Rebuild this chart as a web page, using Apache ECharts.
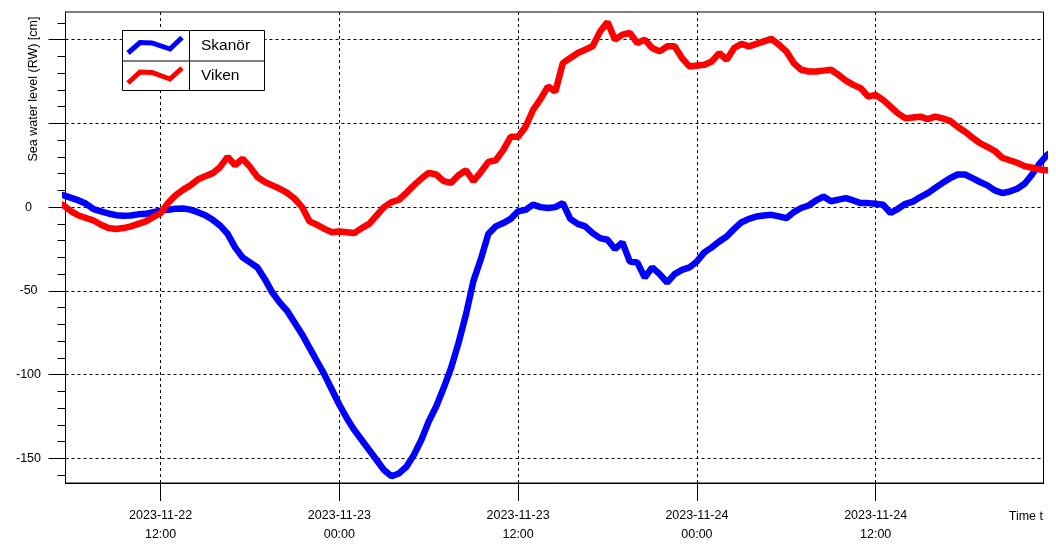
<!DOCTYPE html>
<html>
<head>
<meta charset="utf-8">
<script src="https://cdn.jsdelivr.net/npm/echarts@6/dist/echarts.min.js"></script>
<style>
html, body { margin: 0; padding: 0; background: #fff; }
#chart { width: 1056px; height: 559px; }
</style>
</head>
<body>
<div id="chart"></div>
<script>
// readings every 30 minutes, first one at 2023-11-22 05:00 (local time)
const firstReading = new Date(2023, 10, 22, 5, 0).getTime();
const stepMinutes = 30;

// Sea water level (RW) [cm]
const skanor = [
    8, 7, 5.5, 4, 2, -1.2, -2.5, -3.8, -4.8, -5.2,
    -5, -4.3, -4, -3, -2.2, -1.5, -1, -0.8, -1.5, -3,
    -4.8, -7.6, -11, -16, -24, -30, -33, -36, -43, -51,
    -57, -62, -69, -76, -84, -92, -100, -109, -118, -126,
    -133, -139, -145, -151, -157, -160.7, -159, -155, -148, -139,
    -128, -119, -108, -96, -81, -64, -44, -31, -16, -11.5,
    -9.5, -7, -2.5, -1.6, 1.5, 0, -0.5, 0, 2.4, -7,
    -10, -11.5, -15.5, -18.5, -19.5, -25, -21, -32.5, -33, -42,
    -36, -40, -45, -40, -37.5, -36, -32.5, -27, -24, -20.5,
    -17.5, -13, -9, -7, -5.6, -5, -4.6, -5.5, -6.6, -3,
    -0.5, 1, 4, 6.3, 3.5, 4.5, 5.4, 4, 2.4, 2.4,
    2, 1.4, -3.5, -1, 2, 3.3, 6, 8.4, 11.5, 14.5,
    17.3, 19.5, 19.5, 17.3, 15, 13, 10, 8.4, 9.3, 11,
    14, 19.5, 26, 31, 34
];
const viken = [
    3, 1, -2.5, -5, -6.5, -8, -10.5, -12.5, -13, -12.5,
    -11.5, -10, -8.5, -6, -3.6, 2.5, 7, 10.3, 13, 16.5,
    18.5, 20.3, 24, 30, 25, 29, 24, 18, 15, 13,
    11, 8.5, 5, 0, -8.5, -10.5, -13, -15, -14.5, -15,
    -15.5, -12.5, -10, -5, 0, 3, 4.4, 8.5, 13, 17,
    20.5, 19.5, 15.5, 14.5, 19, 22, 15.5, 21, 27, 28,
    34, 42, 42, 48, 58, 64.5, 72, 69, 86, 89,
    92, 94, 96, 104.8, 110.5, 100, 103, 104, 98, 100,
    95, 93, 96, 96, 89, 84, 84.5, 85, 87, 92,
    88, 95, 97.5, 96, 97.5, 99, 100.5, 97, 93, 86,
    82, 81, 81, 81.5, 82, 79, 75.5, 73, 71, 66,
    67, 64, 60, 56, 53, 53.5, 54, 52.5, 54, 53,
    51.5, 48, 45, 41.5, 38.2, 36, 33.5, 29.5, 28, 26.5,
    24.5, 23.5, 22.5, 22, 22
];

const xTicks = [
    new Date(2023, 10, 22, 12).getTime(),
    new Date(2023, 10, 23, 0).getTime(),
    new Date(2023, 10, 23, 12).getTime(),
    new Date(2023, 10, 24, 0).getTime(),
    new Date(2023, 10, 24, 12).getTime(),
];
const yMajor = [-150, -100, -50, 0, 50, 100];
const yLabelled = [-150, -100, -50, 0];
const yMinor = [];
for (let v = -160; v <= 110; v += 10) yMinor.push(v);

const xMin = new Date(2023, 10, 22, 5, 37).getTime();
const xMax = new Date(2023, 10, 24, 23, 16).getTime();
const yMin = -164.7;
const yMax = 116.5;

function pairs(values) {
    return values.map((v, i) => [firstReading + i * stepMinutes * 60000, v]);
}

function pad(n) {
    return n < 10 ? "0" + n : "" + n;
}

function timeLabel(ms) {
    const d = new Date(ms);
    return d.getFullYear() + "-" + pad(d.getMonth() + 1) + "-" + pad(d.getDate()) +
        "\n" + pad(d.getHours()) + ":" + pad(d.getMinutes());
}

const font = "'Liberation Sans', Arial, sans-serif";
const gridLines = yMajor.map((v) => ({ yAxis: v })).concat(xTicks.map((t) => ({ xAxis: t })));

let chart = echarts.init(document.getElementById("chart"));
chart.setOption({
    animation: false,
    grid: {
        left: 65.5,
        right: 12.5,
        top: 12,
        bottom: 76,
        show: true,
        borderColor: "#000",
        borderWidth: 1,
        backgroundColor: "#fff",
    },
    xAxis: {
        type: "value",
        min: xMin,
        max: xMax,
        axisLine: { onZero: false, lineStyle: { color: "#000", width: 1 } },
        axisTick: { customValues: xTicks, length: 18, lineStyle: { color: "#000" } },
        axisLabel: {
            customValues: xTicks,
            formatter: timeLabel,
            margin: 23,
            lineHeight: 19,
            color: "#000",
            fontSize: 12.5,
            fontFamily: font,
        },
        splitLine: { show: false },
    },
    yAxis: [
        {
            type: "value",
            min: yMin,
            max: yMax,
            axisLine: { show: true, onZero: false, lineStyle: { color: "#000", width: 1 } },
            axisTick: { show: true, customValues: yMinor, length: 8, lineStyle: { color: "#000" } },
            axisLabel: { show: false },
            splitLine: { show: false },
        },
        {
            type: "value",
            min: yMin,
            max: yMax,
            position: "left",
            axisLine: { show: false, onZero: false },
            axisTick: { show: true, customValues: yMajor, length: 17, lineStyle: { color: "#000" } },
            axisLabel: {
                customValues: yLabelled,
                align: "center",
                margin: 37,
                color: "#000",
                fontSize: 12.5,
                fontFamily: font,
            },
            splitLine: { show: false },
        },
    ],
    series: [
        {
            name: "Skanör",
            type: "line",
            data: pairs(skanor),
            showSymbol: false,
            z: 2,
            lineStyle: { color: "#0000ff", width: 6.5 },
            itemStyle: { color: "#0000ff" },
            markLine: {
                z: 1,
                silent: true,
                symbol: ["none", "none"],
                label: { show: false },
                lineStyle: { color: "#000", type: [3, 3], width: 1 },
                emphasis: { disabled: true },
                data: gridLines,
            },
        },
        {
            name: "Viken",
            type: "line",
            data: pairs(viken),
            showSymbol: false,
            z: 3,
            lineStyle: { color: "#ff0000", width: 6.5 },
            itemStyle: { color: "#ff0000" },
        },
    ],
    graphic: [
        {
            type: "text",
            x: 34,
            y: 89,
            rotation: Math.PI / 2,
            style: {
                text: "Sea water level (RW) [cm]",
                align: "center",
                verticalAlign: "middle",
                fill: "#000",
                font: "12.5px " + font,
            },
        },
        {
            type: "text",
            x: 1043,
            y: 516.5,
            style: {
                text: "Time t",
                align: "right",
                verticalAlign: "middle",
                fill: "#000",
                font: "12.5px " + font,
            },
        },
        {
            type: "rect",
            z: 100,
            shape: { x: 122.5, y: 30.5, width: 142, height: 60 },
            style: { fill: "#fff", stroke: "#000", lineWidth: 1 },
        },
        {
            type: "line",
            z: 101,
            shape: { x1: 122.5, y1: 61, x2: 264.5, y2: 61 },
            style: { stroke: "#000", lineWidth: 1 },
        },
        {
            type: "line",
            z: 101,
            shape: { x1: 189.5, y1: 30.5, x2: 189.5, y2: 90.5 },
            style: { stroke: "#000", lineWidth: 1 },
        },
        {
            type: "polyline",
            z: 101,
            shape: { points: [[128, 53], [140, 42.5], [152, 43], [170, 49], [182, 37.5]] },
            style: { stroke: "#0000ff", lineWidth: 5, fill: null },
        },
        {
            type: "polyline",
            z: 101,
            shape: { points: [[128, 83], [140, 72], [152, 72.5], [170, 79], [182, 68]] },
            style: { stroke: "#ff0000", lineWidth: 5, fill: null },
        },
        {
            type: "text",
            z: 101,
            x: 201,
            y: 46,
            style: { text: "Skanör", verticalAlign: "middle", fill: "#000", font: "15.5px " + font },
        },
        {
            type: "text",
            z: 101,
            x: 201,
            y: 76,
            style: { text: "Viken", verticalAlign: "middle", fill: "#000", font: "15.5px " + font },
        },
    ],
});
</script>
</body>
</html>
